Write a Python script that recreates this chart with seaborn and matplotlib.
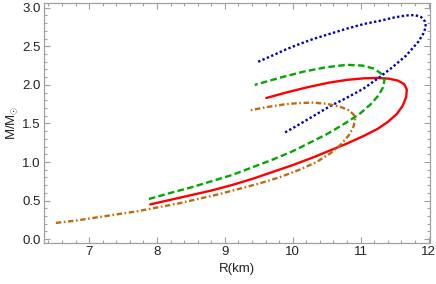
import pandas as pd
import matplotlib
matplotlib.use("Agg")
import matplotlib.pyplot as plt
import seaborn as sns
from matplotlib.ticker import MultipleLocator

# mass-radius curves (R in km, M in solar masses)
red_r = [7.90, 8.20, 8.50, 8.80, 9.10, 9.40, 9.70, 10.00, 10.30, 10.55, 10.80, 11.05, 11.25,
         11.40, 11.53, 11.62, 11.67, 11.68, 11.64, 11.55, 11.42, 11.25, 11.05, 10.80, 10.54,
         10.22, 9.90, 9.61]
red_m = [0.45, 0.51, 0.57, 0.63, 0.70, 0.78, 0.87, 0.96, 1.06, 1.15, 1.24, 1.34, 1.43,
         1.52, 1.62, 1.73, 1.84, 1.94, 2.01, 2.055, 2.08, 2.09, 2.085, 2.065, 2.03,
         1.97, 1.90, 1.83]

green_r = [7.88, 8.20, 8.50, 8.80, 9.10, 9.40, 9.70, 10.00, 10.25, 10.50, 10.75, 10.98, 11.15,
           11.27, 11.33, 11.35, 11.31, 11.20, 11.03, 10.80, 10.50, 10.15, 9.80, 9.44]
green_m = [0.52, 0.60, 0.67, 0.75, 0.83, 0.93, 1.03, 1.14, 1.25, 1.36, 1.49, 1.62, 1.75,
           1.87, 1.97, 2.06, 2.14, 2.21, 2.25, 2.26, 2.23, 2.17, 2.09, 2.00]

blue_r = [9.49, 9.70, 9.90, 10.10, 10.30, 10.54, 10.80, 11.05, 11.28, 11.50, 11.67, 11.80,
          11.89, 11.95, 11.96, 11.92, 11.85, 11.76, 11.67, 11.47, 11.28, 11.04, 10.79, 10.54,
          10.35, 10.10, 9.86]
blue_m = [2.30, 2.38, 2.46, 2.53, 2.595, 2.66, 2.73, 2.79, 2.83, 2.875, 2.90, 2.905,
          2.88, 2.82, 2.75, 2.66, 2.56, 2.47, 2.38, 2.23, 2.10, 1.95, 1.83, 1.72,
          1.62, 1.49, 1.37]

orange_r = [6.51, 6.80, 7.10, 7.40, 7.70, 8.00, 8.30, 8.60, 8.90, 9.20, 9.50, 9.80, 10.10, 10.35,
            10.55, 10.70, 10.82, 10.89, 10.92, 10.90, 10.83, 10.70, 10.50, 10.30, 10.10, 9.90,
            9.60, 9.37]
orange_m = [0.21, 0.24, 0.28, 0.32, 0.36, 0.41, 0.46, 0.52, 0.58, 0.65, 0.72, 0.80, 0.90, 1.00,
            1.11, 1.22, 1.34, 1.45, 1.54, 1.61, 1.67, 1.715, 1.755, 1.77, 1.765, 1.75,
            1.71, 1.67]

x_ticks = [7, 8, 9, 10, 11, 12]
y_ticks = [0.0, 0.5, 1.0, 1.5, 2.0, 2.5, 3.0]

sns.set_style("ticks")
plt.rcParams["font.family"] = ["Liberation Sans", "DejaVu Sans"]
plt.rcParams["mathtext.fontset"] = "custom"
plt.rcParams["mathtext.rm"] = "Liberation Sans"
plt.rcParams["mathtext.it"] = "Liberation Sans"

fig = plt.figure(figsize=(4.36, 2.84), dpi=100)
ax = fig.add_axes([0.1016, 0.1444, 0.8844, 0.8446])

curves = [
    (red_r, red_m, "#ff0000", "-"),
    (green_r, green_m, "#00a800", (0, (2.8, 1.4))),
    (blue_r, blue_m, "#0000b0", (0, (1.0, 1.0))),
    (orange_r, orange_m, "#c06a10", (0, (2.3, 1.1, 0.7, 1.1))),
]
for r, m, col, ls in curves:
    df = pd.DataFrame({"R": r, "M": m})
    sns.lineplot(data=df, x="R", y="M", sort=False, estimator=None, ax=ax,
                 color=col, linewidth=1.7, linestyle=ls)

ax.set_xlim(6.34, 12.02)
ax.set_ylim(-0.05, 3.06)
ax.set_xticks(x_ticks)
ax.set_xticklabels([str(t) for t in x_ticks])
ax.set_yticks(y_ticks)
ax.set_yticklabels([f"{t:.1f}" for t in y_ticks])
ax.xaxis.set_minor_locator(MultipleLocator(0.2))
ax.yaxis.set_minor_locator(MultipleLocator(0.1))

for s in ax.spines.values():
    s.set_color("#a0a0a0")
    s.set_linewidth(0.9)
ax.tick_params(which="both", direction="in", top=True, right=True,
               color="#a0a0a0", width=0.8, labelsize=9.5, labelcolor="#222222", pad=2.5)
ax.tick_params(which="major", length=4)
ax.tick_params(which="minor", length=2)

ax.set_xlabel("R(km)", fontsize=9.5, color="#222222", labelpad=3)
ax.set_ylabel(r"M/M$_{\odot}$", fontsize=9.5, color="#222222", labelpad=2)

fig.savefig("out.png", dpi=100)
